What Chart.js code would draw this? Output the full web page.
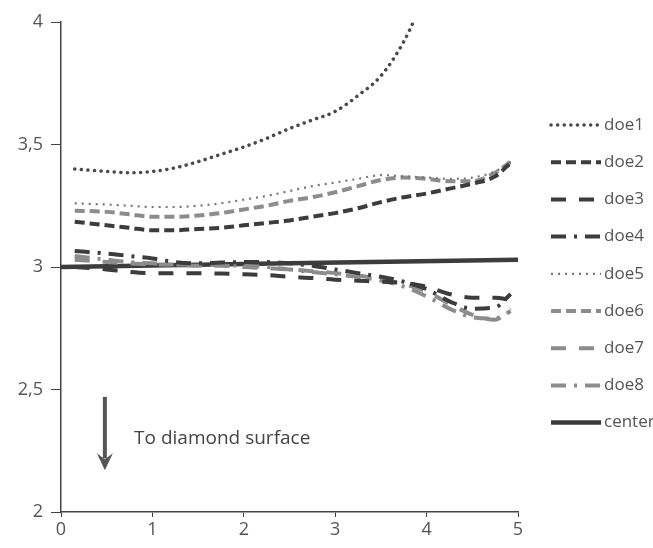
<!DOCTYPE html>
<html>

<head>
    <script src="https://cdn.jsdelivr.net/npm/chart.js"></script>
    <style>
        body { margin: 0; background: #fff; }
    </style>
</head>

<body>
    <canvas id="depth" width="653" height="548"></canvas>
    <script>
        // positions along the profile
        var xs = [0.15, 0.5, 0.75, 1, 1.25, 1.5, 1.75, 2, 2.25, 2.5, 2.75, 3, 3.25, 3.5, 3.75, 4, 4.25, 4.5, 4.75, 4.92];

        var doe1 = [3.40, 3.39, 3.385, 3.39, 3.405, 3.43, 3.46, 3.49, 3.525, 3.565, 3.60, 3.635, 3.70, 3.78, 3.92, 4.12, null, null, null, null];
        var doe2 = [3.185, 3.17, 3.16, 3.15, 3.15, 3.155, 3.16, 3.17, 3.18, 3.19, 3.205, 3.22, 3.24, 3.265, 3.285, 3.30, 3.32, 3.34, 3.37, 3.425];
        var doe3 = [3.0, 2.99, 2.98, 2.975, 2.975, 2.975, 2.973, 2.97, 2.967, 2.96, 2.955, 2.948, 2.944, 2.94, 2.935, 2.92, 2.89, 2.875, 2.875, 2.865];
        var doe4 = [3.065, 3.055, 3.045, 3.035, 3.02, 3.015, 3.018, 3.02, 3.02, 3.015, 3.005, 2.99, 2.975, 2.96, 2.94, 2.91, 2.86, 2.83, 2.835, 2.89];
        var doe5 = [3.26, 3.255, 3.25, 3.245, 3.245, 3.25, 3.26, 3.275, 3.29, 3.31, 3.33, 3.345, 3.36, 3.375, 3.37, 3.365, 3.36, 3.365, 3.39, 3.43];
        var doe6 = [3.23, 3.225, 3.215, 3.205, 3.205, 3.21, 3.22, 3.235, 3.25, 3.27, 3.285, 3.305, 3.33, 3.355, 3.365, 3.36, 3.35, 3.35, 3.385, 3.43];
        var doe7 = [3.03, 3.02, 3.015, 3.01, 3.01, 3.005, 3.005, 3.0, 2.995, 2.99, 2.983, 2.975, 2.965, 2.95, 2.93, 2.90, 2.85, 2.805, 2.785, 2.83];
        var doe8 = [3.045, 3.03, 3.02, 3.015, 3.01, 3.01, 3.008, 3.005, 3.0, 2.99, 2.98, 2.97, 2.96, 2.945, 2.92, 2.88, 2.83, 2.795, 2.79, 2.82];

        var centerX = [0, 5];
        var center = [3.0, 3.03];

        var yTicks = [2, 2.5, 3, 3.5, 4];
        var xTicks = [0, 1, 2, 3, 4, 5];

        var dark = '#3c3c3c';
        var grey = '#8c8c8c';

        function pts(xv, yv) {
            return xv.map(function (x, i) { return { x: x, y: yv[i] }; });
        }

        function series(label, xv, yv, color, width, dash, cap) {
            return {
                label: label,
                data: pts(xv, yv),
                borderColor: color,
                borderWidth: width,
                borderDash: dash,
                borderCapStyle: cap || 'butt',
                pointRadius: 0,
                fill: false,
                tension: 0.4,
                cubicInterpolationMode: 'monotone'
            };
        }

        // legend drawn beside the plot, using each dataset's own line style
        var sideLegend = {
            id: 'sideLegend',
            afterDraw: function (chart) {
                var ctx = chart.ctx;
                chart.data.datasets.forEach(function (ds, i) {
                    var y = 125 + i * 37.2;
                    ctx.save();
                    ctx.strokeStyle = ds.borderColor;
                    ctx.lineWidth = ds.borderWidth;
                    ctx.lineCap = ds.borderCapStyle;
                    ctx.setLineDash(ds.borderDash || []);
                    ctx.beginPath();
                    ctx.moveTo(551, y);
                    ctx.lineTo(601, y);
                    ctx.stroke();
                    ctx.fillStyle = '#555';
                    ctx.font = '17px "Open Sans"';
                    ctx.textBaseline = 'middle';
                    ctx.fillText(ds.label, 604, y);
                    ctx.restore();
                });
            }
        };

        // arrow and note placed in data space
        var note = {
            id: 'note',
            afterDatasetsDraw: function (chart) {
                var ctx = chart.ctx;
                var sx = chart.scales.x, sy = chart.scales.y;
                var ax = sx.getPixelForValue(0.48);
                var top = sy.getPixelForValue(2.47);
                var tip = sy.getPixelForValue(2.17);
                ctx.save();
                ctx.strokeStyle = '#555';
                ctx.fillStyle = '#555';
                ctx.lineWidth = 4;
                ctx.beginPath();
                ctx.moveTo(ax, top);
                ctx.lineTo(ax, tip - 12);
                ctx.stroke();
                ctx.beginPath();
                ctx.moveTo(ax - 8, tip - 17);
                ctx.lineTo(ax, tip - 11);
                ctx.lineTo(ax + 8, tip - 17);
                ctx.lineTo(ax, tip);
                ctx.closePath();
                ctx.fill();
                ctx.fillStyle = '#444';
                ctx.font = '19px "Open Sans"';
                ctx.textBaseline = 'middle';
                ctx.fillText('To diamond surface', sx.getPixelForValue(0.8), sy.getPixelForValue(2.3));
                ctx.restore();
            }
        };

        var tickFont = { family: 'Open Sans', size: 18 };

        new Chart(document.getElementById('depth').getContext('2d'), {
            type: 'line',
            data: {
                datasets: [
                    series('doe1', xs, doe1, '#4a4a4a', 3.5, [0.1, 6.5], 'round'),
                    series('doe2', xs, doe2, dark, 4, [10, 5]),
                    series('doe3', xs, doe3, dark, 4, [15, 13]),
                    series('doe4', xs, doe4, dark, 4, [15, 8, 3, 8]),
                    series('doe5', xs, doe5, '#777', 2.2, [2, 5]),
                    series('doe6', xs, doe6, grey, 4, [10, 5]),
                    series('doe7', xs, doe7, grey, 4, [15, 13]),
                    series('doe8', xs, doe8, grey, 4, [15, 8, 3, 8]),
                    series('center', centerX, center, dark, 4.5, [])
                ]
            },
            options: {
                responsive: false,
                animation: false,
                layout: { padding: { top: 22, right: 135, bottom: 0, left: 0 } },
                plugins: {
                    legend: { display: false },
                    tooltip: { enabled: false }
                },
                scales: {
                    x: {
                        type: 'linear',
                        min: 0,
                        max: 5,
                        afterBuildTicks: function (s) { s.ticks = xTicks.map(function (v) { return { value: v }; }); },
                        afterFit: function (s) { s.height = 36; },
                        grid: { drawOnChartArea: false, tickLength: 5, color: '#444' },
                        border: { color: '#444', width: 1.5 },
                        ticks: { font: tickFont, color: '#555', padding: 2, maxRotation: 0 }
                    },
                    y: {
                        min: 2,
                        max: 4,
                        afterBuildTicks: function (s) { s.ticks = yTicks.map(function (v) { return { value: v }; }); },
                        afterFit: function (s) { s.width = 61; },
                        grid: { drawOnChartArea: false, tickLength: 10, color: '#444' },
                        border: { color: '#444', width: 1.5 },
                        ticks: {
                            font: tickFont,
                            color: '#555',
                            padding: 8,
                            callback: function (v) { return String(v).replace('.', ','); }
                        }
                    }
                }
            },
            plugins: [sideLegend, note]
        });
    </script>

</body>

</html>
